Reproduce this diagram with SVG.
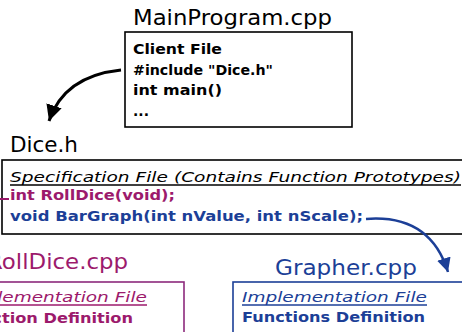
<svg xmlns="http://www.w3.org/2000/svg" width="462" height="332" viewBox="0 0 462 332">
<defs>
<style>
text{font-family:"DejaVu Sans","Verdana",sans-serif}
.title{font-size:21px}
.body{font-size:14px;font-weight:bold}
.ital{font-size:14px;font-style:italic}
.blk{fill:#000}
.pur{fill:#9c1a6c}
.blu{fill:#1c3f97}
.box{fill:#fff;stroke-width:1.6}
</style>
<marker id="ahBlack" markerUnits="userSpaceOnUse" markerWidth="18" markerHeight="18" refX="16" refY="8" orient="auto">
<path d="M0,0 L16,8 L0,16 Z" fill="#000"/>
</marker>
<marker id="ahBlue" markerUnits="userSpaceOnUse" markerWidth="16" markerHeight="16" refX="14" refY="7" orient="auto">
<path d="M0,0 L14,7 L0,14 Z" fill="#1c3f97"/>
</marker>
</defs>
<rect width="462" height="332" fill="#fff"/>

<g id="main">
<text class="title blk" x="133" y="25" textLength="199" lengthAdjust="spacingAndGlyphs">MainProgram.cpp</text>
<rect class="box" x="125" y="32" width="227" height="95" stroke="#000"/>
<text class="body blk" x="133" y="54" textLength="89" lengthAdjust="spacingAndGlyphs">Client File</text>
<text class="body blk" x="133" y="74.5" textLength="140" lengthAdjust="spacingAndGlyphs">#include "Dice.h"</text>
<text class="body blk" x="133" y="95" textLength="89" lengthAdjust="spacingAndGlyphs">int main()</text>
<text class="body blk" x="133" y="116">...</text>
</g>

<g id="dice">
<text class="title blk" x="10" y="152" textLength="68" lengthAdjust="spacingAndGlyphs">Dice.h</text>
<rect class="box" x="2" y="160" width="480" height="74" stroke="#000" stroke-width="2"/>
<text class="ital blk" x="10" y="182" textLength="451" lengthAdjust="spacingAndGlyphs">Specification File (Contains Function Prototypes)</text>
<line x1="10" y1="185" x2="461" y2="185" stroke="#000" stroke-width="1.5"/>
<text class="body pur" x="10" y="200" textLength="165" lengthAdjust="spacingAndGlyphs">int RollDice(void);</text>
<text class="body blu" x="10" y="221" textLength="353" lengthAdjust="spacingAndGlyphs">void BarGraph(int nValue, int nScale);</text>
</g>

<g id="rolldice">
<text class="title pur" x="-13" y="269" textLength="141" lengthAdjust="spacingAndGlyphs">RollDice.cpp</text>
<rect class="box" x="-48" y="282" width="232" height="70" stroke="#8c2a7c" stroke-width="2"/>
<text class="ital pur" x="-38" y="302" textLength="185" lengthAdjust="spacingAndGlyphs">Implementation File</text>
<line x1="-38" y1="305" x2="147" y2="305" stroke="#9c1a6c" stroke-width="1.5"/>
<text class="body pur" x="-41" y="323" textLength="174" lengthAdjust="spacingAndGlyphs">Function Definition</text>
</g>

<g id="grapher">
<text class="title blu" x="275" y="275" textLength="142" lengthAdjust="spacingAndGlyphs">Grapher.cpp</text>
<rect class="box" x="233" y="282" width="250" height="70" stroke="#1c3f97" stroke-width="1.6"/>
<text class="ital blu" x="242" y="302" textLength="185" lengthAdjust="spacingAndGlyphs">Implementation File</text>
<line x1="242" y1="305" x2="427" y2="305" stroke="#1c3f97" stroke-width="1.5"/>
<text class="body blu" x="242" y="322" textLength="183" lengthAdjust="spacingAndGlyphs">Functions Definition</text>
</g>

<g id="connectors">
<path d="M121,70 Q64,76 49,121" fill="none" stroke="#000" stroke-width="3" marker-end="url(#ahBlack)"/>
<path d="M366,219 Q430,214 448,272" fill="none" stroke="#1c3f97" stroke-width="2.5" marker-end="url(#ahBlue)"/>
<line x1="0" y1="199" x2="9" y2="199" stroke="#9c1a6c" stroke-width="2"/>
</g>
</svg>
